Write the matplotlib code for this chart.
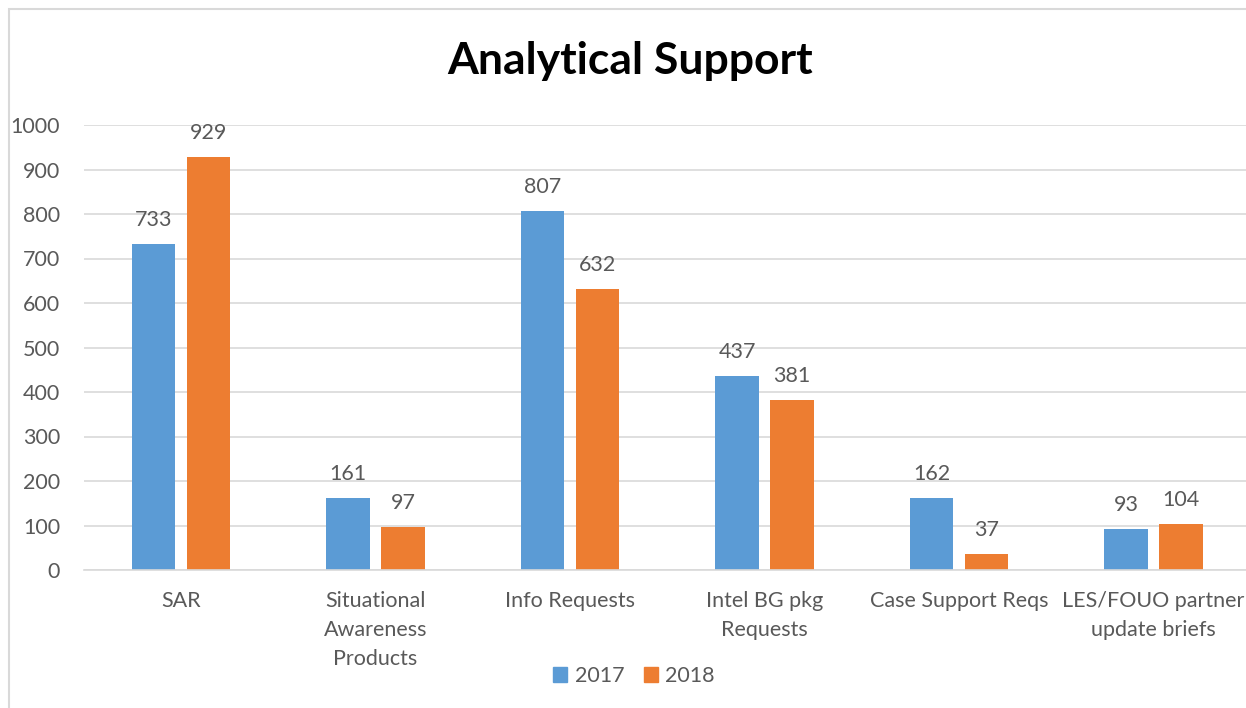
import matplotlib
matplotlib.use("Agg")
import matplotlib.pyplot as plt
from matplotlib.patches import Rectangle, Patch
import numpy as np

categories = ["SAR", "Situational\nAwareness\nProducts", "Info Requests",
              "Intel BG pkg\nRequests", "Case Support Reqs", "LES/FOUO partner\nupdate briefs"]
series_2017 = [733, 161, 807, 437, 162, 93]
series_2018 = [929, 97, 632, 381, 37, 104]
series_names = ["2017", "2018"]
yticks = [0, 100, 200, 300, 400, 500, 600, 700, 800, 900, 1000]
title = "Analytical Support"

BLUE = "#5B9BD5"
ORANGE = "#ED7D31"
TXT = "#595959"
GRID = "#D9D9D9"

plt.rcParams['font.family'] = ['Lato', 'DejaVu Sans']

W, H = 1246, 708
fig = plt.figure(figsize=(W / 100, H / 100), dpi=100)
ax = fig.add_axes([83.75 / W, 138 / H, 1167 / W, 445 / H])

x = np.arange(len(categories))
bw = 0.222
off = 0.141
b1 = ax.bar(x - off, series_2017, bw, color=BLUE, label=series_names[0], zorder=3)
b2 = ax.bar(x + off, series_2018, bw, color=ORANGE, label=series_names[1], zorder=3)

for bars, vals in ((b1, series_2017), (b2, series_2018)):
    for rect, v in zip(bars, vals):
        ax.annotate(str(v), (rect.get_x() + rect.get_width() / 2, v),
                    xytext=(0, 14), textcoords="offset pixels",
                    ha="center", va="bottom", fontsize=15.5, color=TXT)

ax.set_xlim(-0.5, len(categories) - 0.5)
ax.set_ylim(0, 1000)
ax.set_yticks(yticks)
ax.set_yticklabels([str(t) for t in yticks])
ax.set_xticks(x)
ax.set_xticklabels(categories, linespacing=1.58)
ax.tick_params(axis="both", length=0, labelsize=15.5, colors=TXT)
ax.tick_params(axis="y", pad=17)
ax.tick_params(axis="x", pad=15)
ax.grid(axis="y", color=GRID, linewidth=1.2, zorder=0)
for s in ("top", "right", "left"):
    ax.spines[s].set_visible(False)
ax.spines["bottom"].set_color(GRID)
ax.spines["bottom"].set_linewidth(1.2)
ax.spines["bottom"].set_zorder(4)

fig.text(630 / W, 1 - 61 / H, title, ha="center", va="center",
         fontsize=32, fontweight="bold", color="black")

handles = [Patch(color=BLUE), Patch(color=ORANGE)]
fig.legend(handles, series_names, loc="center", bbox_to_anchor=(634 / W, 1 - 676 / H),
           ncol=2, frameon=False, fontsize=15.5, handlelength=0.65, handleheight=0.65,
           handletextpad=0.35, columnspacing=0.9, labelcolor=TXT)

fig.patches.append(Rectangle((9 / W, -0.5), 2.0, 1 - 9 / H + 0.5,
                             transform=fig.transFigure, fill=False,
                             edgecolor=GRID, linewidth=1.5))

fig.savefig("out.png", dpi=100, facecolor="white")
